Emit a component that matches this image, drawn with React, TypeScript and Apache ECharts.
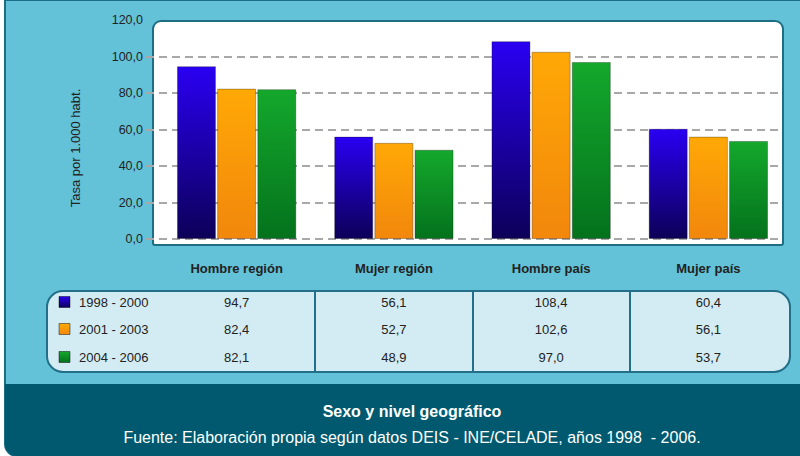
import React, { useEffect, useRef } from 'react';
import * as echarts from 'echarts';

const categories = ['Hombre región', 'Mujer región', 'Hombre país', 'Mujer país'];
const periods = ['1998 - 2000', '2001 - 2003', '2004 - 2006'];
const values1998 = [94.7, 56.1, 108.4, 60.4];
const values2001 = [82.4, 52.7, 102.6, 56.1];
const values2004 = [82.1, 48.9, 97.0, 53.7];
const seriesValues = [values1998, values2001, values2004];
const yMin = 0;
const yMax = 120;
const yStep = 20;
const gridLineMax = 100;
const chartTitle = 'Sexo y nivel geográfico';
const sourceText = 'Fuente: Elaboración propia según datos DEIS - INE/CELADE, años 1998  - 2006.';
const yAxisTitle = 'Tasa por 1.000 habt.';

const W = 800;
const H = 456;
const FONT = '"Liberation Sans", Arial, Helvetica, sans-serif';
const GRID_LEFT = 158;
const GRID_RIGHT = 13;
const GRID_TOP = 20;
const GRID_BOTTOM = 217;

const barColors: [string, string][] = [
  ['#2a00f2', '#0c0058'],
  ['#ffa806', '#f2870c'],
  ['#14a82c', '#04721c'],
];

const fmt = (v: number) => v.toFixed(1).replace('.', ',');
const grad = (c: [string, string]) =>
  new echarts.graphic.LinearGradient(0, 0, 0, 1, [
    { offset: 0, color: c[0] },
    { offset: 1, color: c[1] },
  ]);

export default function App() {
  const ref = useRef<HTMLDivElement>(null);
  useEffect(() => {
    if (!ref.current) return;
    const chart = echarts.init(ref.current, undefined, { renderer: 'svg' });

    const gridW = W - GRID_LEFT - GRID_RIGHT;
    const gridH = H - GRID_TOP - GRID_BOTTOM;
    const band = gridW / categories.length;
    const centers = categories.map((_, i) => GRID_LEFT + band * (i + 0.5));
    const lineTop = GRID_TOP + gridH * (1 - (gridLineMax - yMin) / (yMax - yMin));

    const tableX = 47;
    const tableY = 291;
    const tableW = 743;
    const tableH = 81;
    const rowYs = [302, 329, 357];

    const graphics: any[] = [
      {
        type: 'rect', z: 0,
        shape: { x: 5, y: 0, width: W + 10, height: H, r: [0, 0, 0, 12] },
        style: { fill: '#63c2d8', stroke: '#1c6e86', lineWidth: 2 },
      },
      {
        type: 'rect', z: 0,
        shape: { x: 5, y: 384, width: W, height: H - 384, r: [0, 0, 0, 12] },
        style: { fill: '#00596e' },
      },
      {
        type: 'rect', z: 0,
        shape: { x: 153, y: 21, width: 630, height: 224, r: [8, 8, 2, 2] },
        style: { fill: '#ffffff', stroke: '#1f6d84', lineWidth: 2 },
      },
      {
        type: 'rect', z: 0,
        shape: { x: tableX, y: tableY, width: tableW, height: tableH, r: 16 },
        style: { fill: '#d3ecf3', stroke: '#216f88', lineWidth: 2 },
      },
      {
        type: 'text', z: 10, x: 75, y: 148, rotation: Math.PI / 2,
        style: {
          text: yAxisTitle, fill: '#222', font: `13px ${FONT}`,
          align: 'center', verticalAlign: 'middle',
        },
      },
      {
        type: 'text', z: 10, x: 412, y: 411,
        style: {
          text: chartTitle, fill: '#ffffff', font: `bold 16px ${FONT}`,
          align: 'center', verticalAlign: 'middle',
        },
      },
      {
        type: 'text', z: 10, x: 412, y: 437,
        style: {
          text: sourceText, fill: '#ffffff', font: `16px ${FONT}`,
          align: 'center', verticalAlign: 'middle',
        },
      },
    ];

    for (let i = 0; i < centers.length - 1; i++) {
      const mx = Math.round((centers[i] + centers[i + 1]) / 2);
      graphics.push({
        type: 'line', z: 1,
        shape: { x1: mx, y1: tableY, x2: mx, y2: tableY + tableH },
        style: { stroke: '#216f88', lineWidth: 2 },
      });
    }

    periods.forEach((p, r) => {
      const y = rowYs[r];
      graphics.push({
        type: 'rect', z: 10,
        shape: { x: 59, y: y - 5.5, width: 11, height: 11 },
        style: { fill: grad(barColors[r]), stroke: 'rgba(0,0,0,0.45)', lineWidth: 1 },
      });
      graphics.push({
        type: 'text', z: 10, x: 79, y,
        style: { text: p, fill: '#222', font: `13px ${FONT}`, align: 'left', verticalAlign: 'middle' },
      });
      seriesValues[r].forEach((v, c) => {
        graphics.push({
          type: 'text', z: 10, x: centers[c], y,
          style: { text: fmt(v), fill: '#222', font: `13px ${FONT}`, align: 'center', verticalAlign: 'middle' },
        });
      });
    });

    const option: any = {
      animation: false,
      backgroundColor: '#ffffff',
      grid: [
        { left: GRID_LEFT, right: GRID_RIGHT, top: GRID_TOP, bottom: GRID_BOTTOM, containLabel: false },
        { left: 146, right: W - 783, top: lineTop, bottom: GRID_BOTTOM, containLabel: false },
      ],
      xAxis: [
        {
          type: 'category', data: categories, gridIndex: 0, z: 3,
          axisLine: { show: false }, axisTick: { show: false },
          axisLabel: { color: '#222', fontWeight: 'bold', fontSize: 13, fontFamily: FONT, margin: 23 },
        },
        { type: 'value', gridIndex: 1, show: false, min: 0, max: 1 },
      ],
      yAxis: [
        {
          type: 'value', gridIndex: 0, min: yMin, max: yMax, interval: yStep, z: 3,
          axisLine: { show: false }, axisTick: { show: false }, splitLine: { show: false },
          axisLabel: { color: '#222', fontSize: 12.5, fontFamily: FONT, margin: 15, formatter: (v: number) => fmt(v) },
        },
        {
          type: 'value', gridIndex: 1, min: yMin, max: gridLineMax, interval: yStep, z: 2,
          axisLine: { show: false }, axisTick: { show: false }, axisLabel: { show: false },
          splitLine: { show: true, lineStyle: { color: '#a8a8a8', width: 2, type: [8, 5] } },
        },
      ],
      series: [
        ...periods.map((p, i) => ({
          type: 'bar', name: p, data: seriesValues[i], xAxisIndex: 0, yAxisIndex: 0,
          barWidth: 39, barGap: '3%', z: 5,
          itemStyle: { color: grad(barColors[i]), borderColor: 'rgba(0,0,0,0.28)', borderWidth: 1 },
        })),
        { type: 'scatter', xAxisIndex: 1, yAxisIndex: 1, data: [], silent: true },
      ],
      graphic: graphics,
    };
    chart.setOption(option);
    return () => chart.dispose();
  }, []);

  return (
    <div
      ref={ref}
      style={{ position: 'fixed', left: 0, top: 0, width: W, height: H }}
    />
  );
}
